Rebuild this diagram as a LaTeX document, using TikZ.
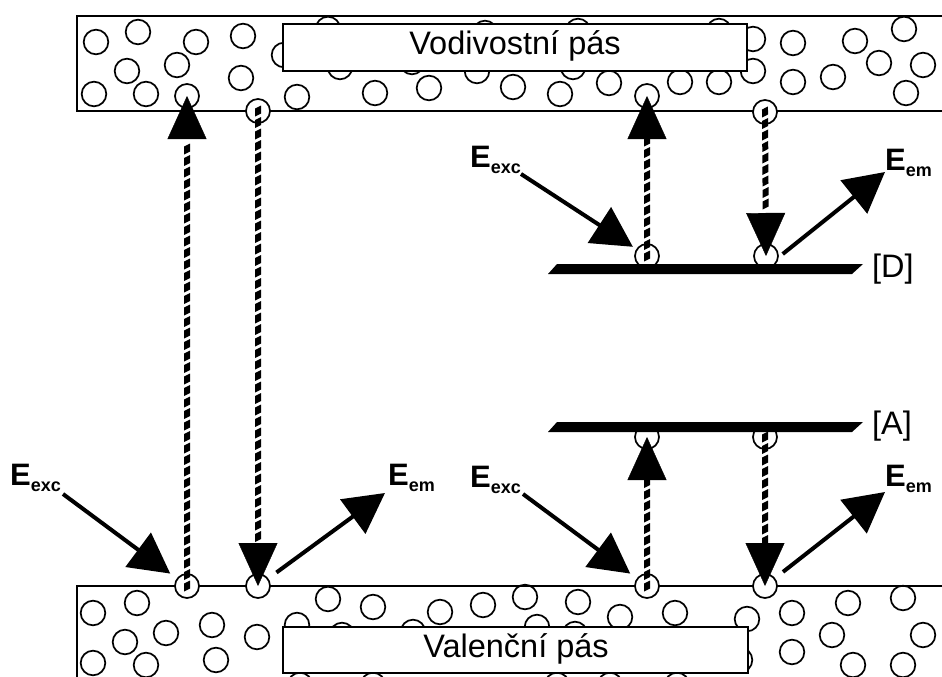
\documentclass[tikz,border=0pt]{standalone}
\usepackage{fontspec}
\setmainfont{Liberation Sans}
\usetikzlibrary{arrows.meta,decorations.markings}

\newcommand\Elbl[1]{E\raisebox{-6.5pt}{\fontsize{18}{21}\selectfont #1}}

\tikzset{
  band/.style={draw=black, line width=1.6pt},
  ring/.style={draw=black, line width=1.7pt},
  bubble/.style={circle, draw=black, line width=1.7pt, fill=white,
    minimum size=24pt, inner sep=0pt},
  tagbox/.style={draw=black, line width=1.6pt, fill=white, inner sep=0pt},
  bandtext/.style={font=\fontsize{32.5}{38}\selectfont, inner sep=0pt, anchor=base},
  leveltext/.style={font=\fontsize{32.5}{38}\selectfont, inner sep=0pt, anchor=base west},
  energy/.style={font=\bfseries\fontsize{31}{36}\selectfont, inner sep=0pt, anchor=base west},
  photon/.style={line width=4pt, -{Triangle[length=40pt,width=42pt]}},
  hop/.style={postaction={decorate}, decoration={markings,
      mark=between positions 0 and -42pt step 11.5pt with
        {\fill[black] (-2.5pt,-3pt) -- (5.5pt,-3pt) -- (2.5pt,3pt) -- (-5.5pt,3pt) -- cycle;},
      mark=at position 1 with {\arrow{Triangle[length=43pt,width=39pt]}}}},
  levelbar/.style={fill=black}
}

\begin{document}
\begin{tikzpicture}[x=1pt,y=-1pt]
  \useasboundingbox (0,0) rectangle (942,677);
  \fill[white] (0,0) rectangle (942,677);
  \clip (0,0) rectangle (942,677);

  % conduction and valence bands
  \draw[band] (77,16) rectangle (960,111);
  \draw[band] (77,586) rectangle (960,700);

  % electrons in the conduction band
  \foreach \x/\y in {96/42,138/32,196/42,243/36,127/71,177/65,241/78,94/94,146/94,
      297/97,375/93,284/55,328/29,340/67,412/62,429/88,477/71,485/33,513/87,560/94,
      573/67,578/31,609/83,680/82,719/82,719/31,753/39,753/71,793/43,793/82,833/77,
      855/41,879/63,904/29,923/65,906/93}
    \draw[ring] (\x,\y) circle[radius=12.3pt];

  % holes in the valence band
  \foreach \x/\y in {93/613,137/603,125/642,166/633,212/625,257/637,93/663,146/665,
      216/660,328/599,373/607,440/612,483/605,297/625,342/635,413/632,525/597,
      578/602,620/617,675/613,747/619,537/627,575/634,740/660,792/613,848/603,
      903/598,832/635,923/635,792/652,853/665,903/665,300/685,373/685,557/685,
      610/685,677/685}
    \draw[ring] (\x,\y) circle[radius=12.3pt];

  % band labels
  \node[tagbox, minimum width=464pt, minimum height=47pt] (cbox) at (515,47.5) {};
  \node[bandtext] (ctext) at (515,55) {Vodivostní pás};
  \node[tagbox, minimum width=465pt, minimum height=46pt] (vbox) at (515.5,650) {};
  \node[bandtext] (vtext) at (516,657) {Valenční pás};

  % charge carriers taking part in the transitions
  \node[bubble] (t1) at (187,96) {};
  \node[bubble] (t2) at (258,111) {};
  \node[bubble] (t3) at (647,96) {};
  \node[bubble] (t4) at (765,112) {};
  \node[bubble] (b1) at (187,586) {};
  \node[bubble] (b2) at (258,586) {};
  \node[bubble] (b3) at (647,586) {};
  \node[bubble] (b4) at (765,586) {};
  \node[bubble] (d1) at (647,256) {};
  \node[bubble] (d2) at (766,256) {};
  \node[bubble] (a1) at (647,437) {};
  \node[bubble] (a2) at (765,437) {};

  % donor and acceptor levels
  \fill[levelbar] (557,264) -- (863,264) -- (852,274) -- (548,274) -- cycle;
  \fill[levelbar] (557,422) -- (863,422) -- (852,432) -- (548,432) -- cycle;
  \node[leveltext] (dlab) at (872,277) {[D]};
  \node[leveltext] (alab) at (872,434) {[A]};

  % electron transitions
  \path[hop] (b1.center) -- (t1.center);
  \path[hop] (t2.center) -- (b2.center);
  \path[hop] (d1.center) -- (t3.center);
  \path[hop] (t4.center) -- (d2.center);
  \path[hop] (b3.center) -- (a1.center);
  \path[hop] (a2.center) -- (b4.center);

  % excitation and emission energies
  \node[energy] (excL) at (10,485) {\Elbl{exc}};
  \node[energy] (emL) at (388,485) {\Elbl{em}};
  \node[energy] (excA) at (470,487) {\Elbl{exc}};
  \node[energy] (emA) at (885,486) {\Elbl{em}};
  \node[energy] (excD) at (470,167) {\Elbl{exc}};
  \node[energy] (emD) at (885,170) {\Elbl{em}};

  \coordinate (excLtail) at (63,494);
  \coordinate (emLtip) at (385,493);
  \coordinate (excAtail) at (523,494);
  \coordinate (emAtip) at (885,492);
  \coordinate (excDtail) at (521,174);
  \coordinate (emDtip) at (885,172);

  \draw[photon, shorten >=8pt] (excLtail) -- (b1);
  \draw[photon, shorten <=10pt] (b2) -- (emLtip);
  \draw[photon, shorten >=8pt] (excAtail) -- (b3);
  \draw[photon, shorten <=10pt] (b4) -- (emAtip);
  \draw[photon, shorten >=4pt] (excDtail) -- (d1);
  \draw[photon, shorten <=5pt] (d2.-5) -- (emDtip);
\end{tikzpicture}
\end{document}
